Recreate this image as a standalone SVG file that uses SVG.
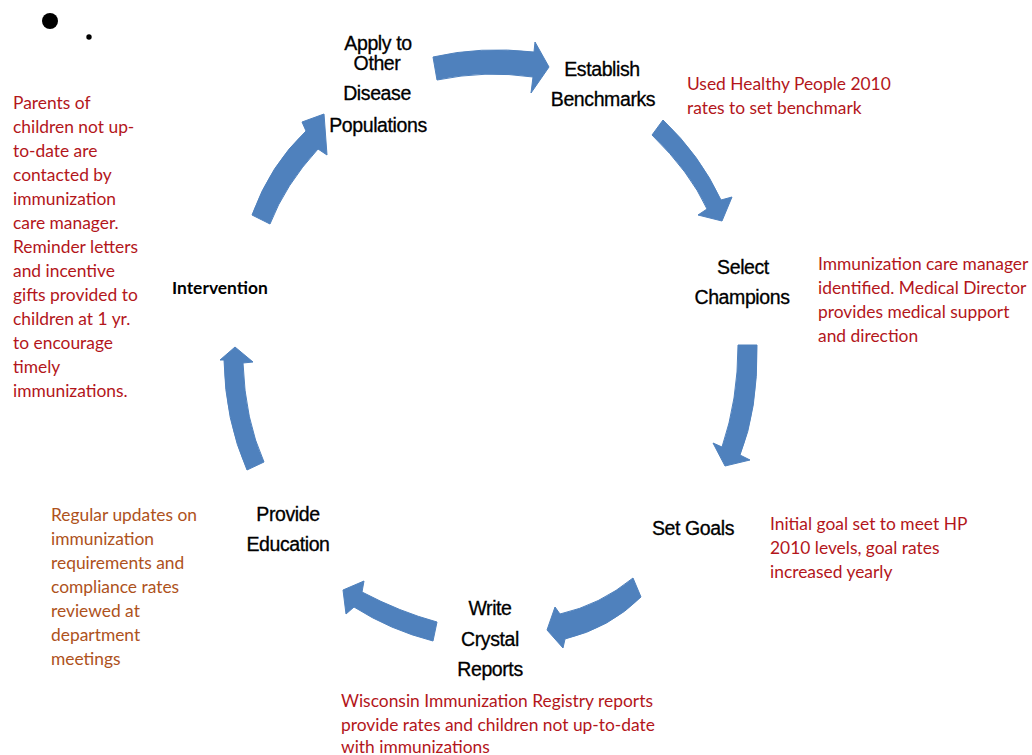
<svg xmlns="http://www.w3.org/2000/svg" width="1032" height="755" viewBox="0 0 1032 755">
<style>
.bg{fill:#ffffff}
.arrow{fill:#4F81BD;stroke:#4F81BD;stroke-width:1;stroke-linejoin:round}
.lbl{font-family:"Liberation Sans",Arial,sans-serif;font-size:19.5px;fill:#000000;stroke:#000000;stroke-width:0.3px;text-anchor:middle;letter-spacing:-0.4px}
.note{font-family:Lato,"Open Sans",sans-serif;font-size:17.4px;fill:#B3161B}
.note2{font-family:Lato,"Open Sans",sans-serif;font-size:17.4px;fill:#AE521C}
.bold{font-family:Lato,"Open Sans",sans-serif;font-size:17.4px;font-weight:bold;fill:#000000}
</style>
<rect class="bg" x="0" y="0" width="1032" height="755"/>
<g id="bullet">
<circle cx="50" cy="21" r="8" fill="#000"/>
<circle cx="89" cy="37" r="2.7" fill="#000"/>
</g>
<g id="connectors">
<path class="arrow" d="M433,57 Q480,46 534,52 L535,42 L549,67 L531,93 L533,77 Q485,70 437,80 Z"/>
<path class="arrow" d="M663,120 Q700,155 721,200 L732,197 L722,221 L698,215 L707,209 Q690,172 652,135 Z"/>
<path class="arrow" d="M738,345 L757,345 Q758,410 740,455 L750,460 L725,466 L713,443 L722,447 Q738,400 738,345 Z"/>
<path class="arrow" d="M633,578 Q600,605 560,614 L555,607 L547,630 L563,648 L565,639 Q610,628 641,597 Z"/>
<path class="arrow" d="M343,590 L364,581 L362,592 Q400,612 437,622 L433,641 Q390,630 354,607 L346,614 Z"/>
<path class="arrow" d="M235,347 L253,362 L243,363 Q245,420 264,462 L247,470 Q225,420 224,360 L220,360 Z"/>
<path class="arrow" d="M252,215 Q270,165 306,131 L302,122 L324,114 L327,155 L318,149 Q285,185 270,224 Z"/>
</g>
<g id="node-apply">
<text class="lbl" x="378" y="50">Apply to</text>
<text class="lbl" x="377" y="70">Other</text>
<text class="lbl" x="377" y="100">Disease</text>
<text class="lbl" x="378" y="132">Populations</text>
</g>
<g id="node-benchmarks">
<text class="lbl" x="602" y="76">Establish</text>
<text class="lbl" x="603" y="106">Benchmarks</text>
<text class="note" x="687" y="90">Used Healthy People 2010</text>
<text class="note" x="687" y="114">rates to set benchmark</text>
</g>
<g id="node-champions">
<text class="lbl" x="743" y="274">Select</text>
<text class="lbl" x="742" y="304">Champions</text>
<text class="note" x="818" y="270">Immunization care manager</text>
<text class="note" x="818" y="294">identified. Medical Director</text>
<text class="note" x="818" y="318">provides medical support</text>
<text class="note" x="818" y="342">and direction</text>
</g>
<g id="node-goals">
<text class="lbl" x="693" y="535">Set Goals</text>
<text class="note" x="770" y="530">Initial goal set to meet HP</text>
<text class="note" x="770" y="554">2010 levels, goal rates</text>
<text class="note" x="770" y="578">increased yearly</text>
</g>
<g id="node-reports">
<text class="lbl" x="490" y="615">Write</text>
<text class="lbl" x="490" y="646">Crystal</text>
<text class="lbl" x="490" y="676">Reports</text>
<text class="note" x="341" y="707">Wisconsin Immunization Registry reports</text>
<text class="note" x="341" y="731">provide rates and children not up-to-date</text>
<text class="note" x="341" y="753">with immunizations</text>
</g>
<g id="node-education">
<text class="lbl" x="288" y="521">Provide</text>
<text class="lbl" x="288" y="551">Education</text>
<text class="note2" x="51" y="521">Regular updates on</text>
<text class="note2" x="51" y="545">immunization</text>
<text class="note2" x="51" y="569">requirements and</text>
<text class="note2" x="51" y="593">compliance rates</text>
<text class="note2" x="51" y="617">reviewed at</text>
<text class="note2" x="51" y="641">department</text>
<text class="note2" x="51" y="665">meetings</text>
</g>
<g id="node-intervention">
<text class="bold" x="172" y="294">Intervention</text>
<text class="note" x="13" y="109">Parents of</text>
<text class="note" x="13" y="133">children not up-</text>
<text class="note" x="13" y="157">to-date are</text>
<text class="note" x="13" y="181">contacted by</text>
<text class="note" x="13" y="205">immunization</text>
<text class="note" x="13" y="229">care manager.</text>
<text class="note" x="13" y="253">Reminder letters</text>
<text class="note" x="13" y="277">and incentive</text>
<text class="note" x="13" y="301">gifts provided to</text>
<text class="note" x="13" y="325">children at 1 yr.</text>
<text class="note" x="13" y="349">to encourage</text>
<text class="note" x="13" y="373">timely</text>
<text class="note" x="13" y="397">immunizations.</text>
</g>
</svg>
